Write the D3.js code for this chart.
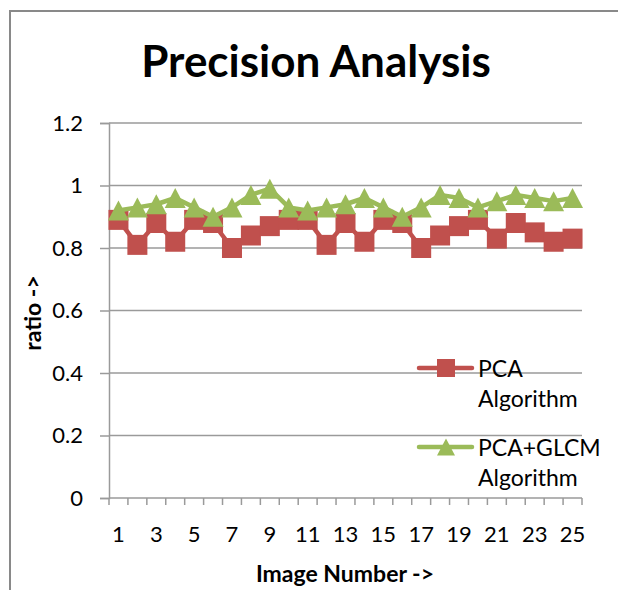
<html>
<head>
<meta charset='utf-8'>
<script src='https://d3js.org/d3.v7.min.js'></script>
<style>
body { margin: 0; background: white; }
text { font-family: Lato, 'Open Sans', sans-serif; fill: black; }
</style>
</head>
<body>
<svg width=618 height=590></svg>
<script>
// image numbers on the x axis
const images = d3.range(1, 26)
const xLabels = ['1','3','5','7','9','11','13','15','17','19','21','23','25']
const yTicks = [0, 0.2, 0.4, 0.6, 0.8, 1, 1.2]
const pca = [0.89,0.81,0.88,0.82,0.89,0.88,0.80,0.84,0.87,0.89,0.89,0.81,0.88,
             0.82,0.89,0.88,0.80,0.84,0.87,0.89,0.83,0.88,0.85,0.82,0.83]
const pcaGlcm = [0.92,0.93,0.94,0.96,0.93,0.90,0.93,0.97,0.99,0.93,0.92,0.93,0.94,
                 0.96,0.93,0.90,0.93,0.97,0.96,0.93,0.95,0.97,0.96,0.95,0.96]
const seriesNames = [['PCA','Algorithm'], ['PCA+GLCM','Algorithm']]

const svg = d3.select('svg')
const x = d3.scaleBand().domain(images).range([109, 582])
const y = d3.scaleLinear().domain([0, 1.2]).range([498, 123])

// chart border (only top and left visible)
svg.append('path').attr('d', 'M10,590 L10,11 L618,11')
	.attr('fill', 'none').attr('stroke', '#898989').attr('stroke-width', 2)

svg.append('text').attr('x', 316).attr('y', 77).attr('text-anchor', 'middle')
	.style('font-size', '44px').style('font-weight', 'bold').text('Precision Analysis')

// gridlines
svg.append('g').selectAll('line').data(yTicks.slice(1)).enter().append('line')
	.attr('x1', 109).attr('x2', 582)
	.attr('y1', d => y(d)).attr('y2', d => y(d))
	.attr('stroke', '#9a9a9a').attr('stroke-width', 1.5)

// y axis
const yAxis = svg.append('g').attr('transform', 'translate(109,0)')
	.call(d3.axisLeft(y).tickValues(yTicks).tickSize(9).tickPadding(17).tickFormat(d => String(d)))
yAxis.select('.domain').attr('stroke', '#9a9a9a').attr('stroke-width', 1.5)
yAxis.selectAll('line').attr('stroke', '#9a9a9a').attr('stroke-width', 1.5)
yAxis.selectAll('text').style('font-size', '22px').style('font-family', 'Lato, sans-serif')

// x axis, ticks between categories
const xAxis = svg.append('g').attr('transform', 'translate(0,498)')
xAxis.append('line').attr('x1', 109).attr('x2', 582).attr('stroke', '#9a9a9a').attr('stroke-width', 1.5)
xAxis.selectAll('.tk').data(images.concat([26])).enter().append('line')
	.attr('x1', d => d <= 25 ? x(d) : x.range()[1]).attr('x2', d => d <= 25 ? x(d) : x.range()[1])
	.attr('y1', 0).attr('y2', 7).attr('stroke', '#9a9a9a').attr('stroke-width', 1.5)
xAxis.selectAll('text').data(xLabels).enter().append('text')
	.attr('x', d => x(+d) + x.bandwidth() / 2).attr('y', 44)
	.attr('text-anchor', 'middle').style('font-size', '22px').text(d => d)

svg.append('text').attr('x', 345).attr('y', 582).attr('text-anchor', 'middle')
	.style('font-size', '23px').style('font-weight', 'bold').text('Image Number ->')
svg.append('text').attr('transform', 'translate(41,313) rotate(-90)').attr('text-anchor', 'middle')
	.style('font-size', '23px').style('font-weight', 'bold').text('ratio ->')

const cx = (d, i) => x(images[i]) + x.bandwidth() / 2
const line = d3.line().x(cx).y(d => y(d))
const red = '#c0504d', green = '#9bbb59'
// triangle centred on its bounding box, like the spreadsheet marker
const triangle = (w, h) => `M0,${-h / 2}L${w / 2},${h / 2}L${-w / 2},${h / 2}Z`

svg.append('path').datum(pca).attr('d', line).attr('fill', 'none')
	.attr('stroke', red).attr('stroke-width', 4.5).attr('stroke-linejoin', 'round')
svg.append('g').selectAll('rect').data(pca).enter().append('rect')
	.attr('x', (d, i) => cx(d, i) - 10).attr('y', d => y(d) - 10)
	.attr('width', 20).attr('height', 20).attr('fill', red)

svg.append('path').datum(pcaGlcm).attr('d', line).attr('fill', 'none')
	.attr('stroke', green).attr('stroke-width', 4.5).attr('stroke-linejoin', 'round')
svg.append('g').selectAll('path').data(pcaGlcm).enter().append('path')
	.attr('d', triangle(21, 20)).attr('transform', (d, i) => `translate(${cx(d, i)},${y(d)})`)
	.attr('fill', green)

// legend
const legend = svg.append('g')
const ly = [368, 447]
const colors = [red, green]
seriesNames.forEach((names, k) => {
	legend.append('line').attr('x1', 419).attr('x2', 472).attr('y1', ly[k]).attr('y2', ly[k])
		.attr('stroke', colors[k]).attr('stroke-width', 4.5).attr('stroke-linecap', 'round')
	if (k === 0) {
		legend.append('rect').attr('x', 437).attr('y', ly[k] - 9).attr('width', 18).attr('height', 18).attr('fill', red)
	} else {
		legend.append('path').attr('d', triangle(18, 17))
			.attr('transform', `translate(446,${ly[k]})`).attr('fill', green)
	}
	names.forEach((n, j) => {
		legend.append('text').attr('x', 478).attr('y', ly[k] + 9 + j * 30)
			.style('font-size', '23px').text(n)
	})
})
</script>
</body>
</html>
